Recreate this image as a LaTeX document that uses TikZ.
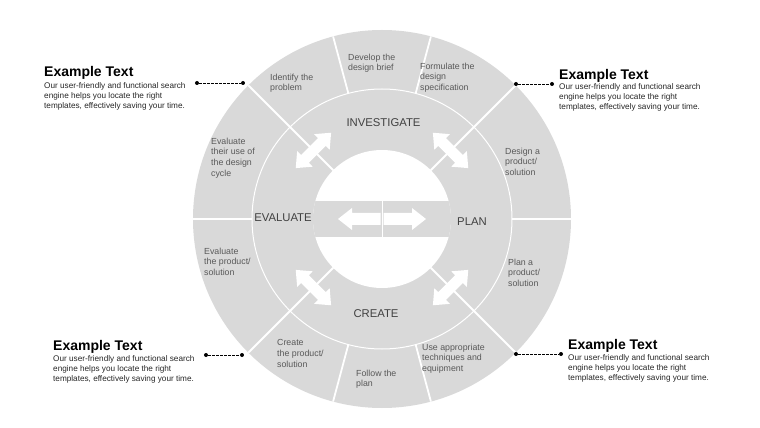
\documentclass[tikz,border=0pt]{standalone}
\usepackage{fontspec}
\setmainfont{Liberation Sans}
\usepackage{xcolor}
\definecolor{RingGrey}{HTML}{D9D9D9}
\definecolor{StepGrey}{HTML}{595959}
\definecolor{PhaseGrey}{HTML}{404040}
\definecolor{NoteGrey}{HTML}{262626}
\usepackage{tikz}
\usetikzlibrary{positioning, calc}
\tikzset{
    % Texts in the outer ring
    segment text/.style={
        anchor=north west,
        inner sep=0pt,
        align=left,
        text=StepGrey,
        font=\fontsize{8.8}{10.7}\selectfont
    },
    % Phase names in the middle ring
    phase label/.style={
        inner sep=0pt,
        text=PhaseGrey,
        font=\fontsize{11.3}{13}\selectfont
    },
    note title/.style={
        anchor=base west,
        inner sep=0pt,
        text=black,
        font=\fontsize{14}{16}\selectfont\bfseries
    },
    note body/.style={
        anchor=north west,
        inner sep=0pt,
        align=left,
        text=NoteGrey,
        font=\fontsize{8.2}{10}\selectfont
    },
    divider/.style={
        draw=white,
        line width=1.8pt
    },
    dot end/.style={
        circle,
        fill=black,
        inner sep=0pt,
        minimum size=4pt
    },
    connector/.style={
        draw=black,
        line width=0.8pt,
        dash pattern=on 2.5pt off 1.5pt
    }
}

\begin{document}
\begin{tikzpicture}[x=1pt, y=1pt]
        \useasboundingbox (-382,-209) rectangle (378,219);

        % Ring
        \fill[RingGrey] (0,0) circle[radius=189pt];
        \fill[white] (0,0) circle[radius=69pt];
        \begin{scope}
            \clip (0,0) circle[radius=69pt];
            \fill[RingGrey] (-70,-18) rectangle (70,18);
        \end{scope}
        \draw[white, line width=1pt] (0,0) circle[radius=130pt];
        \foreach \a in {45,135,225,315} {
            \draw[divider] (\a:69) -- (\a:189);
        }
        \foreach \a in {0,75,105,180,255,285} {
            \draw[divider] (\a:130) -- (\a:189);
        }

        % Block arrows across the dividers
        \foreach \a in {45,135,225,315} {
            \begin{scope}[shift={(\a:97)}, rotate=\a-90]
                \fill[white] (-25,0) -- (-12,11) -- (-12,5.5) -- (12,5.5) -- (12,11)
                    -- (25,0) -- (12,-11) -- (12,-5.5) -- (-12,-5.5) -- (-12,-11) -- cycle;
            \end{scope}
        }

        % Centre arrows
        \fill[white] (-44,0) -- (-30,11) -- (-30,6) -- (-1.5,6) -- (-1.5,-6) -- (-30,-6) -- (-30,-11) -- cycle;
        \fill[white] (44,0) -- (30,11) -- (30,6) -- (1.5,6) -- (1.5,-6) -- (30,-6) -- (30,-11) -- cycle;
        \draw[white, line width=1pt] (0,-18) -- (0,18);

        % Phases
        \node[phase label] (investigate) at (1.5,96) {INVESTIGATE};
        \node[phase label] (plan) at (90,-3) {PLAN};
        \node[phase label] (create) at (-6,-95) {CREATE};
        \node[phase label] (evaluate) at (-99,1) {EVALUATE};

        % Steps
        \node[segment text] (identify) at (-112,145.4) {Identify the\\problem};
        \node[segment text] (develop) at (-34,165.4) {Develop the\\design brief};
        \node[segment text] (formulate) at (38,156.4) {Formulate the\\design\\specification};
        \node[segment text] (design) at (123,71.4) {Design a\\product/\\solution};
        \node[segment text] (planprod) at (126,-39.6) {Plan a\\product/\\solution};
        \node[segment text] (techniques) at (40,-124.6) {Use appropriate\\techniques and\\equipment};
        \node[segment text] (follow) at (-26,-150.6) {Follow the\\plan};
        \node[segment text] (createprod) at (-105,-120.6) {Create\\the product/\\solution};
        \node[segment text] (evalprod) at (-178,-28.6) {Evaluate\\the product/\\solution};
        \node[segment text] (evaluse) at (-171,81.4) {Evaluate\\their use of\\the design\\cycle};

        % Notes
        \node[note title] (title tl) at (-338,142) {Example Text};
        \node[note body] (body tl) at (-338,136.5) {Our user-friendly and functional search\\engine helps you locate the right\\templates, effectively saving your time.};
        \node[note title] (title tr) at (177,139) {Example Text};
        \node[note body] (body tr) at (177,135.5) {Our user-friendly and functional search\\engine helps you locate the right\\templates, effectively saving your time.};
        \node[note title] (title bl) at (-329,-131) {Example Text};
        \node[note body] (body bl) at (-329,-136.5) {Our user-friendly and functional search\\engine helps you locate the right\\templates, effectively saving your time.};
        \node[note title] (title br) at (186,-130) {Example Text};
        \node[note body] (body br) at (186,-135.5) {Our user-friendly and functional search\\engine helps you locate the right\\templates, effectively saving your time.};

        % Connectors
        \node[dot end] (ring tl) at (-139,136) {};
        \node[dot end] (end tl) at (-185,136) {};
        \node[dot end] (ring tr) at (134,135) {};
        \node[dot end] (end tr) at (170,135) {};
        \node[dot end] (ring bl) at (-140,-136) {};
        \node[dot end] (end bl) at (-176,-136) {};
        \node[dot end] (ring br) at (134,-135) {};
        \node[dot end] (end br) at (179,-135) {};
        \draw[connector] (end tl) -- (ring tl);
        \draw[connector] (ring tr) -- (end tr);
        \draw[connector] (end bl) -- (ring bl);
        \draw[connector] (ring br) -- (end br);
    \end{tikzpicture}
\end{document}
